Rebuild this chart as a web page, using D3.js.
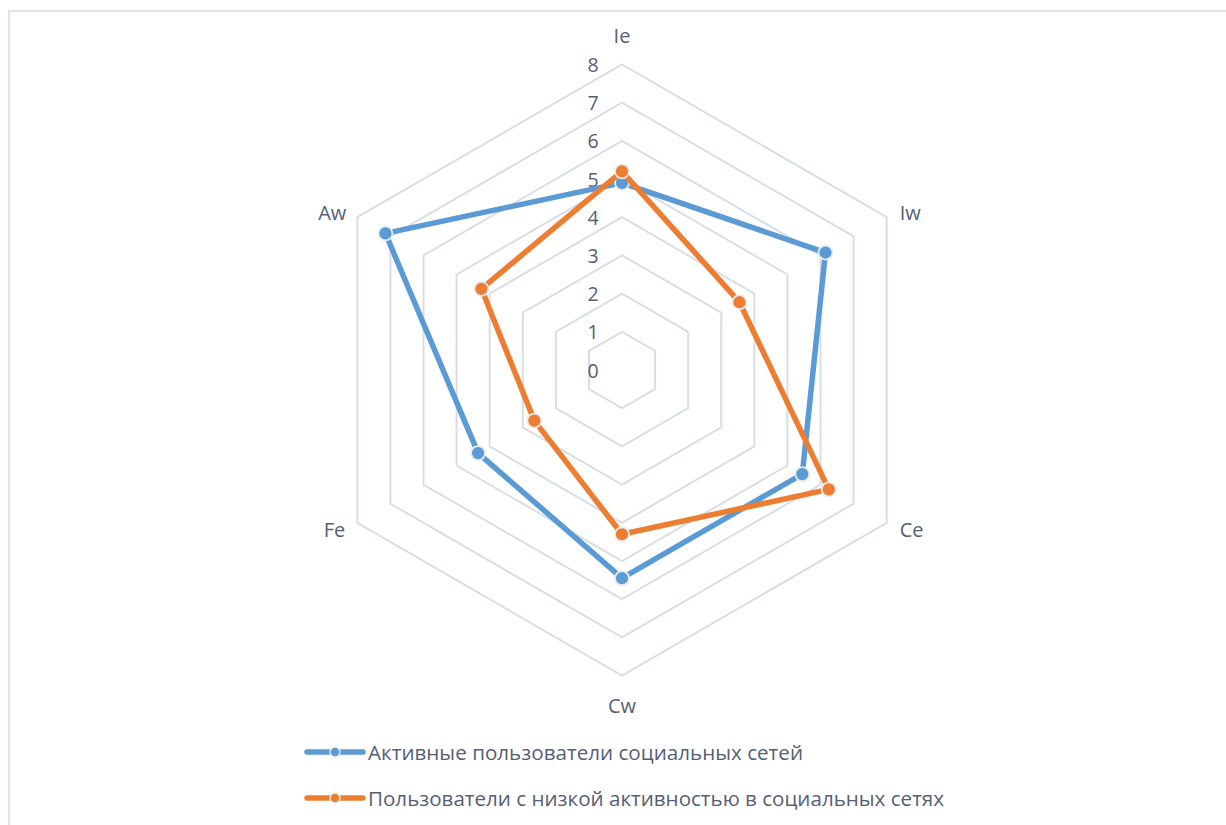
<!DOCTYPE html>
<html>
<head>
<meta charset="utf-8">
<script src="https://cdn.jsdelivr.net/npm/d3@7"></script>
<style>
html,body{margin:0;padding:0;background:#fff;}
svg{display:block;}
text{font-family:"Open Sans","Noto Sans",sans-serif;fill:#566075;}
</style>
</head>
<body>
<svg id="chart" width="1226" height="825"></svg>
<script>
const categories = ["Ie", "Iw", "Ce", "Cw", "Fe", "Aw"];
const seriesNames = ["Активные пользователи социальных сетей", "Пользователи с низкой активностью в социальных сетях"];
const activeValues = [4.9, 6.15, 5.45, 5.45, 4.35, 7.15];
const lowValues = [5.2, 3.55, 6.25, 4.3, 2.65, 4.25];
const tickValues = [0, 1, 2, 3, 4, 5, 6, 7, 8];
const colors = ["#5b9bd5", "#ed7d31"];

const svg = d3.select("#chart");
const cx = 622, cy = 370, R = 305.6;

// outer frame
svg.append("rect").attr("x", 9).attr("y", 11).attr("width", 1300).attr("height", 900)
  .attr("fill", "none").attr("stroke", "#dfe3ea").attr("stroke-width", 2);

const r = d3.scaleLinear().domain([0, 8]).range([0, R]);
const angle = d3.scalePoint().domain(categories).range([0, 2 * Math.PI * (categories.length - 1) / categories.length]);

const pt = (cat, v) => {
  const a = angle(cat);
  return [cx + r(v) * Math.sin(a), cy - r(v) * Math.cos(a)];
};

// grid hexagons
const g = svg.append("g");
tickValues.filter(t => t > 0).forEach(t => {
  g.append("polygon")
    .attr("points", categories.map(c => pt(c, t).join(",")).join(" "))
    .attr("fill", "none").attr("stroke", "#d8dde7").attr("stroke-width", 2);
});

// tick labels
svg.append("g").selectAll("text").data(tickValues).join("text")
  .attr("x", 593).attr("y", d => cy - r(d))
  .attr("text-anchor", "middle").attr("dominant-baseline", "central")
  .style("font-size", "19.5px").text(d => d);

// category labels
const labelOffsets = {
  "Ie": [0, -29, "middle"],
  "Iw": [13, -5, "start"],
  "Ce": [13, 7, "start"],
  "Cw": [0, 30, "middle"],
  "Fe": [-12, 7, "end"],
  "Aw": [-11, -5, "end"]
};
svg.append("g").selectAll("text").data(categories).join("text")
  .attr("x", d => pt(d, 8)[0] + labelOffsets[d][0])
  .attr("y", d => pt(d, 8)[1] + labelOffsets[d][1])
  .attr("text-anchor", d => labelOffsets[d][2])
  .attr("dominant-baseline", "central")
  .style("font-size", "20px").text(d => d);

// series
const series = [activeValues, lowValues];
const line = d3.line().curve(d3.curveLinearClosed);
series.forEach((vals, i) => {
  const pts = categories.map((c, j) => pt(c, vals[j]));
  svg.append("path").attr("d", line(pts))
    .attr("fill", "none").attr("stroke", colors[i]).attr("stroke-width", 5.5)
    .attr("stroke-linejoin", "round");
  svg.append("g").selectAll("circle").data(pts).join("circle")
    .attr("cx", d => d[0]).attr("cy", d => d[1]).attr("r", 7)
    .attr("fill", colors[i]).attr("stroke", "#e8eaee").attr("stroke-width", 1.8);
});

// legend
const legendY = [752, 798];
const legendWidths = [435, 576];
seriesNames.forEach((name, i) => {
  const lg = svg.append("g");
  lg.append("line").attr("x1", 307).attr("x2", 363).attr("y1", legendY[i]).attr("y2", legendY[i])
    .attr("stroke", colors[i]).attr("stroke-width", 5.5).attr("stroke-linecap", "round");
  lg.append("circle").attr("cx", 335).attr("cy", legendY[i]).attr("r", 5)
    .attr("fill", colors[i]).attr("stroke", "#e8eaee").attr("stroke-width", 1.5);
  lg.append("text").attr("x", 368).attr("y", legendY[i])
    .attr("dominant-baseline", "central")
    .attr("textLength", legendWidths[i]).attr("lengthAdjust", "spacingAndGlyphs")
    .style("font-size", "20px").text(name);
});
</script>
</body>
</html>
